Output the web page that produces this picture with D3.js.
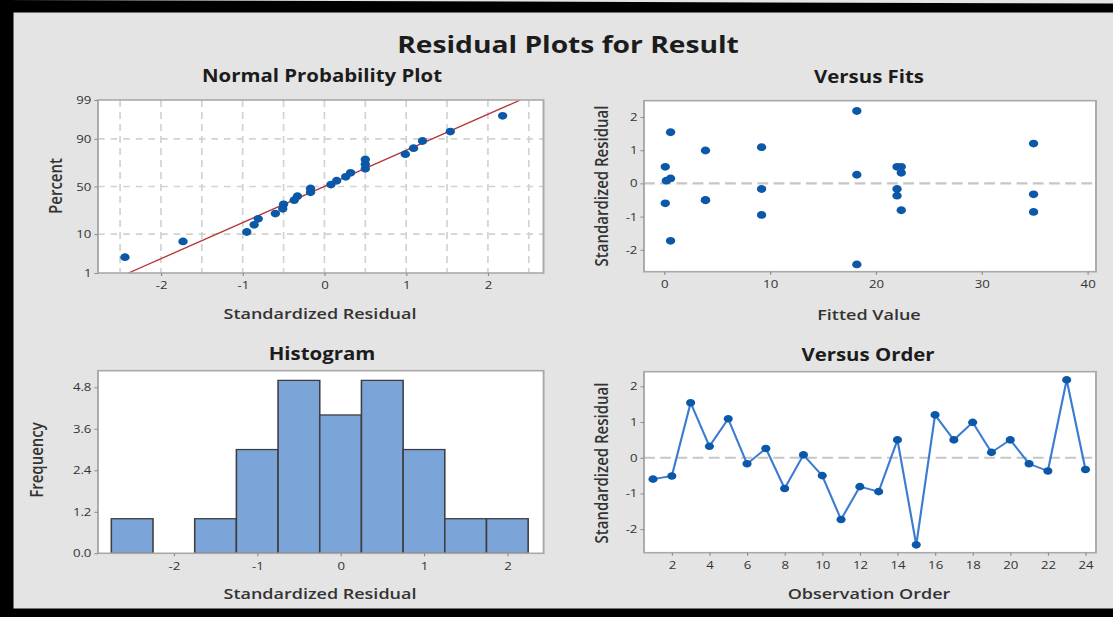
<!DOCTYPE html>
<html>
<head>
<meta charset="utf-8">
<script src="https://cdn.jsdelivr.net/npm/d3@7"></script>
<style>
  html, body { margin: 0; padding: 0; background: #e4e4e4; }
  svg { display: block; font-family: "Open Sans", "Noto Sans", sans-serif; }
</style>
</head>
<body>
<svg id="chart" width="1113" height="617"></svg>
<script>
// ---- data -------------------------------------------------------------
const observationOrder = [1, 2, 3, 4, 5, 6, 7, 8, 9, 10, 11, 12,
                          13, 14, 15, 16, 17, 18, 19, 20, 21, 22, 23, 24];
const standardizedResiduals = [-0.60, -0.51, 1.54, 0.32, 1.09, -0.17, 0.26, -0.86,
                               0.08, -0.50, -1.73, -0.81, -0.95, 0.50, -2.44, 1.20,
                               0.50, 0.99, 0.15, 0.50, -0.17, -0.37, 2.18, -0.33];
const fittedValues = [0.1, 3.9, 0.6, 22.4, 9.2, 9.2, 18.2, 34.9,
                      0.2, 3.9, 0.6, 22.4, 9.2, 0.1, 18.2, 34.9,
                      22.0, 3.9, 0.6, 22.4, 22.0, 22.0, 18.2, 34.9];

// reference normal line on the probability plot
const normalLineMean = 0.0;
const normalLineSd = 1.03;

// histogram bins (midpoints -2.5 ... 2.0, width 0.5)
const binEdges = [-2.75, -2.25, -1.75, -1.25, -0.75, -0.25, 0.25, 0.75, 1.25, 1.75, 2.25];

// tick labels
const percentTicks = [1, 10, 50, 90, 99];
const residualTicks = [-2, -1, 0, 1, 2];
const nppGridX = [-2.5, -2, -1.5, -1, -0.5, 0, 0.5, 1, 1.5, 2, 2.5];
const nppGridPercent = [10, 50, 90];
const frequencyTicks = [0, 1.2, 2.4, 3.6, 4.8];
const fittedTicks = [0, 10, 20, 30, 40];
const orderTicks = [2, 4, 6, 8, 10, 12, 14, 16, 18, 20, 22, 24];

// ---- helpers ----------------------------------------------------------
// inverse standard normal CDF (Acklam)
function probit(p) {
  const a = [-3.969683028665376e+01, 2.209460984245205e+02, -2.759285104469687e+02,
             1.383577518672690e+02, -3.066479806614716e+01, 2.506628277459239e+00];
  const b = [-5.447609879822406e+01, 1.615858368580409e+02, -1.556989798598866e+02,
             6.680131188771972e+01, -1.328068155288572e+01];
  const c = [-7.784894002430293e-03, -3.223964580411365e-01, -2.400758277161838e+00,
             -2.549732539343734e+00, 4.374664141464968e+00, 2.938163982698783e+00];
  const d = [7.784695709041462e-03, 3.224671290700398e-01, 2.445134137142996e+00,
             3.754408661907416e+00];
  const pl = 0.02425, ph = 1 - pl;
  let q, r;
  if (p < pl) {
    q = Math.sqrt(-2 * Math.log(p));
    return (((((c[0]*q+c[1])*q+c[2])*q+c[3])*q+c[4])*q+c[5]) / ((((d[0]*q+d[1])*q+d[2])*q+d[3])*q+1);
  }
  if (p <= ph) {
    q = p - 0.5; r = q * q;
    return (((((a[0]*r+a[1])*r+a[2])*r+a[3])*r+a[4])*r+a[5])*q / (((((b[0]*r+b[1])*r+b[2])*r+b[3])*r+b[4])*r+1);
  }
  q = Math.sqrt(-2 * Math.log(1 - p));
  return -(((((c[0]*q+c[1])*q+c[2])*q+c[3])*q+c[4])*q+c[5]) / ((((d[0]*q+d[1])*q+d[2])*q+d[3])*q+1);
}

// number formats with a plain hyphen as the minus sign
const locale = d3.formatLocale({ decimal: ".", thousands: ",", grouping: [3], currency: ["", ""], minus: "-" });
const fmtInt = locale.format("d");
const fmtOne = locale.format(".1f");

// The graph is laid out in a horizontally widened frame.
const SX = 1.2;
const W = 1113, H = 617;
const box = (x0, x1, y0, y1) => ({ x0: x0 / SX, x1: x1 / SX, y0, y1 });

const C = {
  page: "#e4e4e4",
  frame: "#a9a9a9",
  tick: "#8c8c8c",
  tickText: "#333333",
  title: "#1c1c1c",
  axisTitle: "#333333",
  point: "#0b58a8",
  orderLine: "#3b7bd2",
  fitLine: "#b83434",
  grid: "#d2d2d2",
  zeroLine: "#c6c6c6",
  bar: "#7ba5d9",
  barStroke: "#3e3e3e"
};

const svg = d3.select("#chart");
svg.append("rect").attr("width", W).attr("height", H).attr("fill", C.page);

const g = svg.append("g").attr("transform", `scale(${SX},1)`);

function plotArea(p) {
  g.append("rect")
    .attr("x", p.x0).attr("y", p.y0)
    .attr("width", p.x1 - p.x0).attr("height", p.y1 - p.y0)
    .attr("fill", "#ffffff");
}
function plotFrame(p) {
  g.append("rect")
    .attr("x", p.x0).attr("y", p.y0)
    .attr("width", p.x1 - p.x0).attr("height", p.y1 - p.y0)
    .attr("fill", "none").attr("stroke", C.frame).attr("stroke-width", 1.6);
}
function styleAxis(sel) {
  sel.select(".domain").remove();
  sel.attr("font-family", null).attr("font-size", 11);
  sel.selectAll(".tick line").attr("stroke", C.tick).attr("stroke-width", 1);
  sel.selectAll(".tick text").attr("fill", C.tickText);
}
function leftAxis(p, scale, values, fmt) {
  g.append("g").attr("transform", `translate(${p.x0},0)`)
    .call(d3.axisLeft(scale).tickValues(values).tickFormat(fmt).tickSize(3).tickPadding(2.5))
    .call(styleAxis);
}
function bottomAxis(p, scale, values, fmt) {
  g.append("g").attr("transform", `translate(0,${p.y1})`)
    .call(d3.axisBottom(scale).tickValues(values).tickFormat(fmt).tickSize(3).tickPadding(5.5))
    .call(styleAxis);
}
function subTitle(text, cx, y) {
  g.append("text").attr("x", cx / SX).attr("y", y)
    .attr("text-anchor", "middle").attr("font-size", 17).attr("font-weight", 700)
    .attr("fill", C.title).text(text);
}
function xTitle(text, cx, y) {
  g.append("text").attr("x", cx / SX).attr("y", y)
    .attr("text-anchor", "middle").attr("font-size", 15).attr("font-weight", 600)
    .attr("fill", C.axisTitle).text(text);
}
function yTitle(text, x, cy) {
  g.append("text").attr("transform", `translate(${x / SX},${cy}) rotate(-90)`)
    .attr("text-anchor", "middle").attr("font-size", 15).attr("font-weight", 600)
    .attr("fill", C.axisTitle).text(text);
}
function zeroLine(p, y) {
  g.append("line")
    .attr("x1", p.x0).attr("x2", p.x1).attr("y1", y).attr("y2", y)
    .attr("stroke", C.zeroLine).attr("stroke-width", 2.2).attr("stroke-dasharray", "9,4.5");
}

// ---- main title -------------------------------------------------------
g.append("text").attr("x", 568 / SX).attr("y", 53)
  .attr("text-anchor", "middle").attr("font-size", 23.5).attr("font-weight", 700)
  .attr("fill", C.title).text("Residual Plots for Result");

// ---- Normal Probability Plot -----------------------------------------
{
  const p = box(98, 543.5, 100, 273);
  const n = standardizedResiduals.length;
  const sorted = standardizedResiduals.slice().sort(d3.ascending);
  const pts = sorted.map((v, i) => ({ x: v, z: probit((i + 1 - 0.3) / (n + 0.4)) }));

  const x = d3.scaleLinear().domain([-2.77, 2.68]).range([p.x0, p.x1]);
  const y = d3.scaleLinear().domain([probit(0.01), probit(0.99)]).range([p.y1, p.y0]);

  plotArea(p);
  g.append("g").selectAll("line").data(nppGridX).join("line")
    .attr("x1", d => x(d)).attr("x2", d => x(d)).attr("y1", p.y0).attr("y2", p.y1)
    .attr("stroke", C.grid).attr("stroke-width", 1.4).attr("stroke-dasharray", "7,5");
  g.append("g").selectAll("line").data(nppGridPercent).join("line")
    .attr("x1", p.x0).attr("x2", p.x1)
    .attr("y1", d => y(probit(d / 100))).attr("y2", d => y(probit(d / 100)))
    .attr("stroke", C.grid).attr("stroke-width", 1.6).attr("stroke-dasharray", "5.5,5");

  const zLo = probit(0.01), zHi = probit(0.99);
  g.append("line")
    .attr("x1", x(normalLineMean + normalLineSd * zLo)).attr("y1", y(zLo))
    .attr("x2", x(normalLineMean + normalLineSd * zHi)).attr("y2", y(zHi))
    .attr("stroke", C.fitLine).attr("stroke-width", 1.3);

  g.append("g").selectAll("circle").data(pts).join("circle")
    .attr("cx", d => x(d.x)).attr("cy", d => y(d.z)).attr("r", 3.9)
    .attr("fill", C.point);

  plotFrame(p);
  leftAxis(p, y, percentTicks.map(t => probit(t / 100)), (d, i) => percentTicks[i]);
  bottomAxis(p, x, residualTicks, fmtInt);
  subTitle("Normal Probability Plot", 322, 82);
  xTitle("Standardized Residual", 320, 319);
  yTitle("Percent", 62, 186);
}

// ---- Versus Fits ------------------------------------------------------
{
  const p = box(644, 1096, 100.7, 271.7);
  const x = d3.scaleLinear().domain([-1.91, 40.8]).range([p.x0, p.x1]);
  const y = d3.scaleLinear().domain([-2.66, 2.49]).range([p.y1, p.y0]);

  plotArea(p);
  zeroLine(p, y(0));
  g.append("g").selectAll("circle").data(fittedValues).join("circle")
    .attr("cx", d => x(d)).attr("cy", (d, i) => y(standardizedResiduals[i])).attr("r", 3.9)
    .attr("fill", C.point);
  plotFrame(p);
  leftAxis(p, y, residualTicks, fmtInt);
  bottomAxis(p, x, fittedTicks, fmtInt);
  subTitle("Versus Fits", 869, 83);
  xTitle("Fitted Value", 869, 320);
  yTitle("Standardized Residual", 607.5, 186);
}

// ---- Histogram --------------------------------------------------------
{
  const p = box(98, 543.6, 370.7, 553.3);
  const x = d3.scaleLinear().domain([-2.91, 2.435]).range([p.x0, p.x1]);
  const y = d3.scaleLinear().domain([0, 5.28]).range([p.y1, p.y0]);
  const bins = d3.bin()
    .domain([binEdges[0], binEdges[binEdges.length - 1]])
    .thresholds(binEdges.slice(1, -1))(standardizedResiduals);

  plotArea(p);
  g.append("g").selectAll("rect").data(bins.filter(b => b.length > 0)).join("rect")
    .attr("x", d => x(d.x0)).attr("width", d => x(d.x1) - x(d.x0))
    .attr("y", d => y(d.length)).attr("height", d => y(0) - y(d.length))
    .attr("fill", C.bar).attr("stroke", C.barStroke).attr("stroke-width", 1.3);
  plotFrame(p);
  leftAxis(p, y, frequencyTicks, fmtOne);
  bottomAxis(p, x, residualTicks, fmtInt);
  subTitle("Histogram", 322, 360);
  xTitle("Standardized Residual", 320, 599);
  yTitle("Frequency", 43, 460);
}

// ---- Versus Order -----------------------------------------------------
{
  const p = box(644, 1096, 371.7, 552.7);
  const x = d3.scaleLinear().domain([0.52, 24.56]).range([p.x0, p.x1]);
  const y = d3.scaleLinear().domain([-2.66, 2.41]).range([p.y1, p.y0]);
  const pts = observationOrder.map((o, i) => ({ o, r: standardizedResiduals[i] }));

  plotArea(p);
  zeroLine(p, y(0));
  g.append("path").datum(pts)
    .attr("d", d3.line().x(d => x(d.o)).y(d => y(d.r)))
    .attr("fill", "none").attr("stroke", C.orderLine).attr("stroke-width", 1.8);
  g.append("g").selectAll("circle").data(pts).join("circle")
    .attr("cx", d => x(d.o)).attr("cy", d => y(d.r)).attr("r", 3.8)
    .attr("fill", C.point);
  plotFrame(p);
  leftAxis(p, y, residualTicks, fmtInt);
  bottomAxis(p, x, orderTicks, fmtInt);
  subTitle("Versus Order", 868, 361);
  xTitle("Observation Order", 869, 599);
  yTitle("Standardized Residual", 607.5, 463);
}

// ---- outer black edges --------------------------------------------------
svg.append("polygon").attr("points", `0,0 ${W},3.5 ${W},12.5 0,12.5`).attr("fill", "#000");
svg.append("rect").attr("x", 0).attr("y", 0).attr("width", 13.5).attr("height", H).attr("fill", "#000");
svg.append("rect").attr("x", 0).attr("y", 608.5).attr("width", W).attr("height", H - 608.5).attr("fill", "#000");
</script>
</body>
</html>
